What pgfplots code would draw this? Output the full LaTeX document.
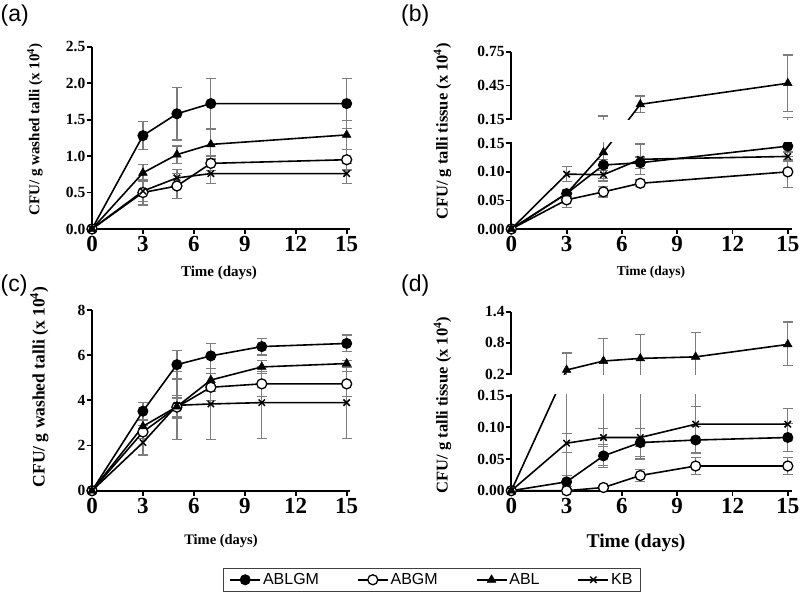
\documentclass[border=0pt]{standalone}
\usepackage{fontspec}
\setmainfont{Liberation Serif}
\newfontfamily\sansf{Liberation Sans}
\usepackage{pgfplots}
\usepackage{pgfplotstable}
\pgfplotsset{compat=1.18}
\definecolor{errgray}{RGB}{125,125,125}

% ---------- panel (a) ----------
\pgfplotstableread{
x y ep em
0 0 0 0
3 1.28 0.19 0.19
5 1.58 0.36 0.36
7 1.72 0.34 0.34
15 1.72 0.34 0.34
}\aABLGM
\pgfplotstableread{
x y ep em
0 0 0 0
3 0.50 0.17 0.17
5 0.59 0.17 0.17
7 0.90 0.10 0.10
15 0.95 0.14 0.14
}\aABGM
\pgfplotstableread{
x y ep em
0 0 0 0
3 0.77 0.11 0.11
5 1.02 0.12 0.12
7 1.16 0.20 0.20
15 1.29 0.20 0.20
}\aABL
\pgfplotstableread{
x y ep em
0 0 0 0
3 0.52 0.14 0.14
5 0.70 0.12 0.12
7 0.76 0.14 0.14
15 0.76 0.14 0.14
}\aKB
% ---------- panel (b) ----------
\pgfplotstableread{
x y ep em
0 0 0 0
3 0.062 0.005 0.005
5 0.112 0.010 0.010
7 0.116 0.010 0.010
15 0.145 0.023 0.023
}\bABLGM
\pgfplotstableread{
x y ep em
0 0 0 0
3 0.051 0.013 0.013
5 0.065 0.009 0.009
7 0.080 0.006 0.006
15 0.100 0.027 0.027
}\bABGM
\pgfplotstableread{
x y ep em
0 0 0 0
3 0.062 0.006 0.006
5 0.134 0.046 0.046
7 0.283 0.075 0.075
15 0.470 0.250 0.250
}\bABL
\pgfplotstableread{
x y ep em
0 0 0 0
3 0.096 0.013 0.013
5 0.095 0.011 0.011
7 0.122 0.027 0.027
15 0.127 0.008 0.008
}\bKB
% ---------- panel (c) ----------
\pgfplotstableread{
x y ep em
0 0 0 0
3 3.52 0.39 0.39
5 5.58 0.63 0.63
7 5.97 0.55 0.55
10 6.38 0.37 0.37
15 6.52 0.37 0.37
}\cABLGM
\pgfplotstableread{
x y ep em
0 0 0 0
3 2.60 0.30 0.30
5 3.70 0.40 0.40
7 4.58 0.60 0.60
10 4.73 0.55 0.55
15 4.73 0.55 0.55
}\cABGM
\pgfplotstableread{
x y ep em
0 0 0 0
3 2.85 0.28 0.28
5 3.72 0.50 0.50
7 4.90 0.50 0.50
10 5.48 0.30 0.30
15 5.63 0.15 0.15
}\cABL
\pgfplotstableread{
x y ep em
0 0 0 0
3 2.13 0.55 0.55
5 3.78 1.50 1.50
7 3.84 1.57 1.57
10 3.90 1.60 1.60
15 3.90 1.60 1.60
}\cKB
% ---------- panel (d) ----------
\pgfplotstableread{
x y ep em
0 0 0 0
3 0.014 0.010 0.010
5 0.055 0.018 0.018
7 0.076 0.022 0.022
10 0.080 0.021 0.021
15 0.084 0.022 0.022
}\dABLGM
\pgfplotstableread{
x y ep em
0 0 0 0
3 0.000 0.001 0.000
5 0.005 0.003 0.003
7 0.024 0.010 0.010
10 0.039 0.013 0.013
15 0.039 0.013 0.013
}\dABGM
\pgfplotstableread{
x y ep em
0 0 0 0
3 0.277 0.33 0.27
5 0.450 0.433 0.41
7 0.500 0.46 0.45
10 0.530 0.47 0.47
15 0.770 0.43 0.41
}\dABL
\pgfplotstableread{
x y ep em
0 0 0 0
3 0.075 0.015 0.015
5 0.084 0.014 0.014
7 0.084 0.014 0.014
10 0.105 0.028 0.028
15 0.105 0.025 0.025
}\dKB

\pgfplotsset{
  panel/.style={
    scale only axis, clip=false, anchor=south west,
    axis x line*=bottom, axis y line*=left,
    axis line style={line width=1.8pt,-},
    every non boxed x axis/.append style={x axis line style=-},
    every non boxed y axis/.append style={y axis line style=-},
    tick align=outside, major tick length=5pt,
    tick style={line width=1.8pt,black},
    xmin=0, ymin=0,
    xtick={0,3,6,9,12,15}, xticklabels={0,3,6,9,12,15},
    xticklabel style={font=\bfseries\fontsize{23}{25}\selectfont, inner sep=2pt},
    yticklabel style={font=\bfseries\fontsize{15.5}{17}\selectfont, inner sep=1.5pt},
  },
  ser/.style={black, line width=1.6pt},
  m1/.style={mark=*, mark size=5pt, mark options={fill=black, draw=black, line width=1pt}},
  m2/.style={mark=*, mark size=5pt, mark options={fill=white, draw=black, line width=1.3pt}},
  m3/.style={mark=triangle*, mark size=5pt, mark options={fill=black, draw=black, line width=0.5pt}},
  m4/.style={mark=x, mark size=4.5pt, mark options={line width=1.5pt}},
  ebar/.style={draw=none, mark=none, forget plot, skip coords between index={0}{1},
    error bars/.cd, y dir=both, y explicit,
    error bar style={errgray, line width=1.3pt},
    error mark options={errgray, rotate=90, mark size=5pt, line width=1.3pt}},
}

\begin{document}
\begin{tikzpicture}[
  declare function={
    brkb(\v)=(\v<0.1500001) ? (\v/0.15*85.7) : (109.7+(\v-0.15)/0.6*67.6);
    brkd(\v)=(\v<0.1500001) ? (\v/0.15*95) : (116.7+(\v-0.2)/1.2*62.3);
  }]

% ===== (a) =====
\begin{axis}[panel, at={(92pt,370pt)}, width=258.4pt, height=182.3pt,
  xmax=15.22, ymax=2.5,
  ytick={0,0.5,1,1.5,2,2.5}, yticklabels={0.0,0.5,1.0,1.5,2.0,2.5}]
\addplot[ebar] table[x=x,y=y,y error plus=ep,y error minus=em]{\aABLGM};
\addplot[ebar] table[x=x,y=y,y error plus=ep,y error minus=em]{\aABGM};
\addplot[ebar] table[x=x,y=y,y error plus=ep,y error minus=em]{\aABL};
\addplot[ebar] table[x=x,y=y,y error plus=ep,y error minus=em]{\aKB};
\addplot[ser,m1] table[x=x,y=y]{\aABLGM};
\addplot[ser,m2] table[x=x,y=y]{\aABGM};
\addplot[ser,m3] table[x=x,y=y]{\aABL};
\addplot[ser,m4] table[x=x,y=y]{\aKB};
\end{axis}

% ===== (b) =====
\begin{axis}[panel, at={(511.3pt,370pt)}, width=281.1pt, height=177.3pt,
  xmax=15.25, ymax=177.3,
  ytick={0,28.57,57.13,85.7,109.7,143.5,177.3},
  yticklabels={0.00,0.05,0.10,0.15,0.15,0.45,0.75}]
\addplot[ebar] table[x=x, y expr={brkb(\thisrow{y})},
  y error plus expr={brkb(\thisrow{y}+\thisrow{ep})-brkb(\thisrow{y})},
  y error minus expr={brkb(\thisrow{y})-brkb(\thisrow{y}-\thisrow{em})}]{\bABLGM};
\addplot[ebar] table[x=x, y expr={brkb(\thisrow{y})},
  y error plus expr={brkb(\thisrow{y}+\thisrow{ep})-brkb(\thisrow{y})},
  y error minus expr={brkb(\thisrow{y})-brkb(\thisrow{y}-\thisrow{em})}]{\bABGM};
\addplot[ebar] table[x=x, y expr={brkb(\thisrow{y})},
  y error plus expr={brkb(\thisrow{y}+\thisrow{ep})-brkb(\thisrow{y})},
  y error minus expr={brkb(\thisrow{y})-brkb(\thisrow{y}-\thisrow{em})}]{\bABL};
\addplot[ebar] table[x=x, y expr={brkb(\thisrow{y})},
  y error plus expr={brkb(\thisrow{y}+\thisrow{ep})-brkb(\thisrow{y})},
  y error minus expr={brkb(\thisrow{y})-brkb(\thisrow{y}-\thisrow{em})}]{\bKB};
\addplot[ser,m1] table[x=x, y expr={brkb(\thisrow{y})}]{\bABLGM};
\addplot[ser,m2] table[x=x, y expr={brkb(\thisrow{y})}]{\bABGM};
\addplot[ser,m3] table[x=x, y expr={brkb(\thisrow{y})}]{\bABL};
\addplot[ser,m4] table[x=x, y expr={brkb(\thisrow{y})}]{\bKB};
\end{axis}

% ===== (c) =====
\begin{axis}[panel, at={(92pt,108.3pt)}, width=258.4pt, height=180.7pt,
  xmax=15.22, ymax=8,
  ytick={0,2,4,6,8}, yticklabels={0,2,4,6,8},
  legend columns=4,
  legend style={at={(axis description cs:0.507,-0.428)}, anchor=north west,
    draw=black!75, line width=0.8pt, font=\sansf\fontsize{16}{18}\selectfont,
    inner xsep=6pt, inner ysep=3pt,
    /tikz/every even column/.append style={column sep=36pt}},
  legend image code/.code={\draw[mark repeat=2,mark phase=2] plot coordinates {(0pt,0pt) (15pt,0pt) (30pt,0pt)};}]
\addplot[ebar] table[x=x,y=y,y error plus=ep,y error minus=em]{\cABLGM};
\addplot[ebar] table[x=x,y=y,y error plus=ep,y error minus=em]{\cABGM};
\addplot[ebar] table[x=x,y=y,y error plus=ep,y error minus=em]{\cABL};
\addplot[ebar] table[x=x,y=y,y error plus=ep,y error minus=em]{\cKB};
\addplot[ser,m1] table[x=x,y=y]{\cABLGM};
\addlegendentry{ABLGM}
\addplot[ser,m2] table[x=x,y=y]{\cABGM};
\addlegendentry{ABGM}
\addplot[ser,m3] table[x=x,y=y]{\cABL};
\addlegendentry{ABL}
\addplot[ser,m4] table[x=x,y=y]{\cKB};
\addlegendentry{KB}
\end{axis}

% ===== (d) =====
\begin{axis}[panel, at={(511.3pt,108.3pt)}, width=281.1pt, height=179pt,
  xmax=15.25, ymax=179,
  ytick={0,31.67,63.33,95,116.7,147.85,179},
  yticklabels={0.00,0.05,0.10,0.15,0.2,0.8,1.4}]
\addplot[ebar] table[x=x, y expr={brkd(\thisrow{y})},
  y error plus expr={brkd(\thisrow{y}+\thisrow{ep})-brkd(\thisrow{y})},
  y error minus expr={brkd(\thisrow{y})-brkd(\thisrow{y}-\thisrow{em})}]{\dABLGM};
\addplot[ebar] table[x=x, y expr={brkd(\thisrow{y})},
  y error plus expr={brkd(\thisrow{y}+\thisrow{ep})-brkd(\thisrow{y})},
  y error minus expr={brkd(\thisrow{y})-brkd(\thisrow{y}-\thisrow{em})}]{\dABGM};
\addplot[ebar] table[x=x, y expr={brkd(\thisrow{y})},
  y error plus expr={brkd(\thisrow{y}+\thisrow{ep})-brkd(\thisrow{y})},
  y error minus expr={brkd(\thisrow{y})-brkd(\thisrow{y}-\thisrow{em})}]{\dABL};
\addplot[ebar] table[x=x, y expr={brkd(\thisrow{y})},
  y error plus expr={brkd(\thisrow{y}+\thisrow{ep})-brkd(\thisrow{y})},
  y error minus expr={brkd(\thisrow{y})-brkd(\thisrow{y}-\thisrow{em})}]{\dKB};
\addplot[ser,m1] table[x=x, y expr={brkd(\thisrow{y})}]{\dABLGM};
\addplot[ser,m2] table[x=x, y expr={brkd(\thisrow{y})}]{\dABGM};
\addplot[ser,m3] table[x=x, y expr={brkd(\thisrow{y})}]{\dABL};
\addplot[ser,m4] table[x=x, y expr={brkd(\thisrow{y})}]{\dKB};
\end{axis}

% axis breaks
\fill[white] (509.3pt,456.9pt) rectangle (800pt,478.5pt);
\fill[white] (509.3pt,204.5pt) rectangle (800pt,223.8pt);

% panel letters
\node[anchor=base west, inner sep=0pt, font=\sansf\fontsize{23}{25}\selectfont] at (0.5pt,577pt) {(a)};
\node[anchor=base west, inner sep=0pt, font=\sansf\fontsize{23}{25}\selectfont] at (401pt,577pt) {(b)};
\node[anchor=base west, inner sep=0pt, font=\sansf\fontsize{23}{25}\selectfont] at (0.5pt,307pt) {(c)};
\node[anchor=base west, inner sep=0pt, font=\sansf\fontsize{23}{25}\selectfont] at (401pt,307pt) {(d)};

% x labels
\node[anchor=base, font=\bfseries\fontsize{15}{17}\selectfont] at (219pt,322pt) {Time (days)};
\node[anchor=base, font=\bfseries\fontsize{13.5}{16}\selectfont] at (651pt,323pt) {Time (days)};
\node[anchor=base, font=\bfseries\fontsize{14.5}{17}\selectfont] at (221pt,54pt) {Time (days)};
\node[anchor=base, font=\bfseries\fontsize{19.5}{22}\selectfont] at (636pt,51pt) {Time (days)};

% y labels
\node[rotate=90, font=\bfseries\fontsize{15}{17}\selectfont] at (35pt,469.5pt) {CFU/ g washed talli (x 10\textsuperscript{4})};
\node[rotate=90, font=\bfseries\fontsize{16.5}{18}\selectfont] at (442.5pt,467.5pt) {CFU/ g talli tissue (x 10\textsuperscript{4})};
\node[rotate=90, font=\bfseries\fontsize{17.5}{19}\selectfont] at (39.5pt,212pt) {CFU/ g washed talli (x 10\textsuperscript{4})};
\node[rotate=90, font=\bfseries\fontsize{16.5}{18}\selectfont] at (442.5pt,194pt) {CFU/ g talli tissue (x 10\textsuperscript{4})};

\pgfresetboundingbox
\path[use as bounding box] (0pt,0pt) rectangle (800pt,599pt);
\end{tikzpicture}
\end{document}
